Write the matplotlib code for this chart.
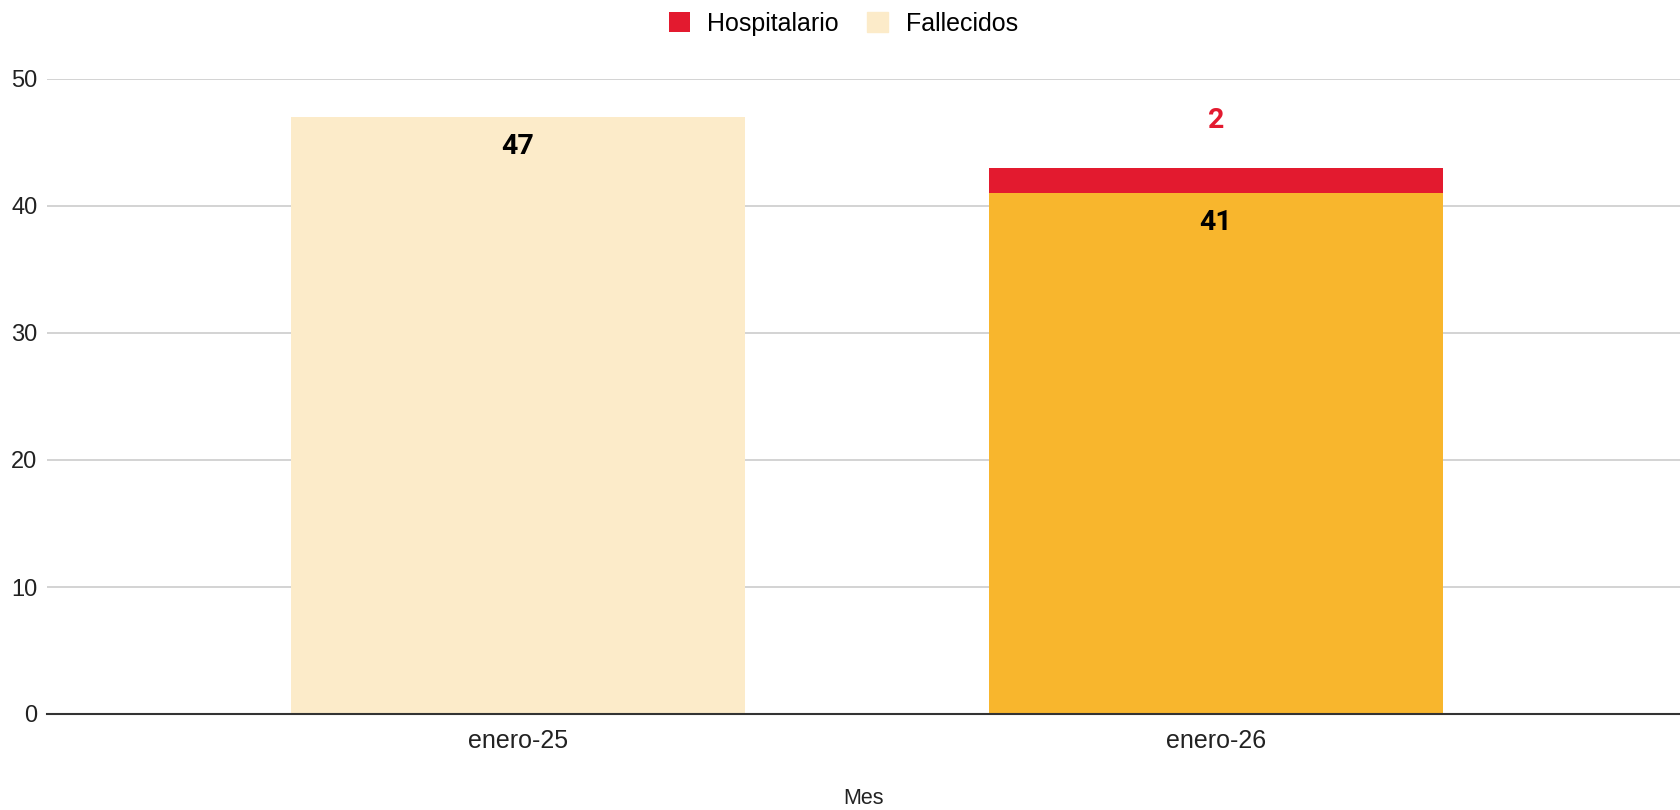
import matplotlib.pyplot as plt
import numpy as np

# datos del grafico
meses = ["enero-25", "enero-26"]
fallecidos = [47, 41]
hospitalario = [0, 2]
yticks = [0, 10, 20, 30, 40, 50]

rojo = "#E31A2F"
crema = "#FCEBC9"
naranja = "#F8B62D"
colores_fall = [crema, naranja]  # el segundo mes va en otro tono

plt.rcParams['font.family'] = ['Liberation Sans', 'DejaVu Sans']

W, H = 1680, 810
fig = plt.figure(figsize=(W / 100, H / 100), dpi=100)
ax = fig.add_axes([47 / W, (H - 714) / H, (W - 47) / W, (714 - 79) / H])

x = np.arange(len(meses))
ancho = 0.65
b1 = ax.bar(x, fallecidos, ancho, color=colores_fall, zorder=3, label="Fallecidos")
b2 = ax.bar(x, hospitalario, ancho, bottom=fallecidos, color=rojo, zorder=3, label="Hospitalario")

# etiquetas de valores
for i in range(len(meses)):
    ax.annotate(str(fallecidos[i]), (x[i], fallecidos[i]), xytext=(0, -21),
                textcoords="offset points", ha="center", va="center",
                fontsize=20.5, fontweight="bold", color="black", family="Roboto")
    if hospitalario[i] > 0:
        top = fallecidos[i] + hospitalario[i]
        ax.annotate(str(hospitalario[i]), (x[i], top), xytext=(0, 34),
                    textcoords="offset points", ha="center", va="center",
                    fontsize=20.5, fontweight="bold", color=rojo, family="Roboto")

ax.set_ylim(0, 50)
ax.set_xlim(-0.675, 1.665)
ax.set_yticks(yticks)
ax.set_xticks(x)
ax.set_xticklabels(meses)
ax.tick_params(axis="y", length=0, labelsize=17, pad=7, labelcolor="#222222")
ax.tick_params(axis="x", length=0, labelsize=18, pad=11, labelcolor="#222222")
ax.grid(axis="y", color="#CCCCCC", linewidth=1.2, zorder=0)
for s in ["top", "right", "left"]:
    ax.spines[s].set_visible(False)
ax.spines["bottom"].set_color("#333333")
ax.spines["bottom"].set_linewidth(1.5)
ax.spines["bottom"].set_zorder(4)

fig.text((47 + W) / 2 / W, 12 / H, "Mes", ha="center", va="center",
         fontsize=15.5, color="#222222")

handles = [b2, b1]
fig.legend(handles, ["Hospitalario", "Fallecidos"], loc="center",
           bbox_to_anchor=(0.502, 1 - 24 / H), ncol=2, frameon=False,
           fontsize=18, handlelength=0.85, handleheight=0.85, columnspacing=1.13,
           handletextpad=0.7)
leg = fig.legends[0]
leg.legend_handles[1].set_color(crema)

fig.savefig("out.png", dpi=100)
